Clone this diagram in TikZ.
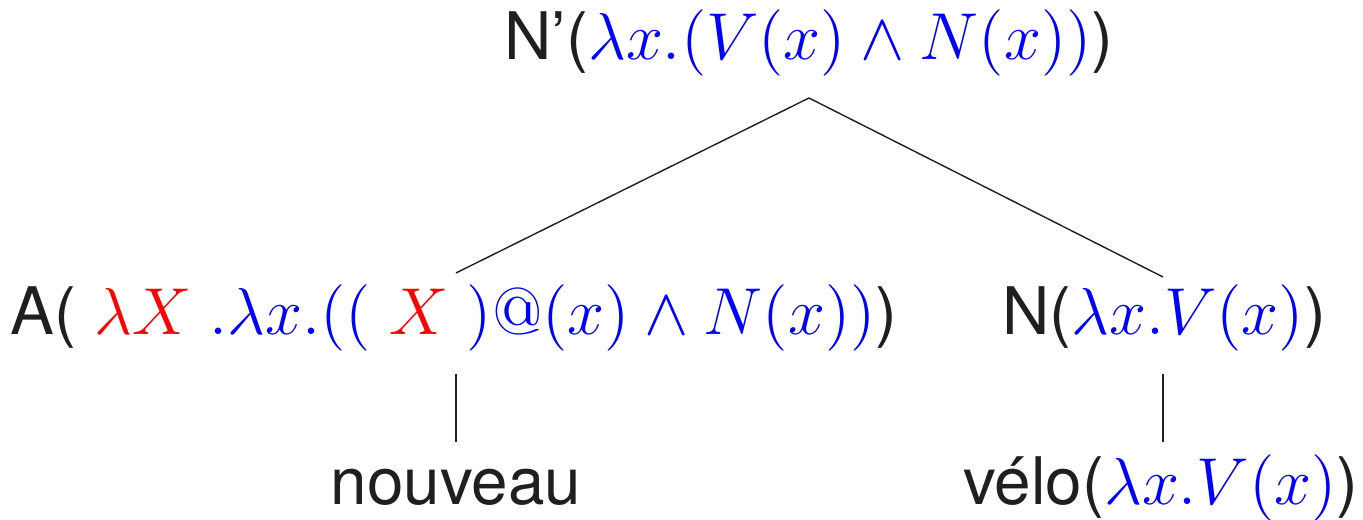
\RequirePackage{fix-cm}
\documentclass[tikz,border=0pt]{standalone}
\usepackage[no-math]{fontspec}
\setmainfont{TeX Gyre Heros}
\usetikzlibrary{calc}
\definecolor{ink}{rgb}{0.12,0.12,0.12}
% coloured formulas in scalable Computer Modern math
\newcommand{\mfont}{\fontsize{16.6}{20}\selectfont}
\newcommand{\bl}[1]{\textcolor{blue}{\mfont$#1$}}
\newcommand{\rd}[1]{\textcolor{red}{\mfont$#1$}}
\begin{document}
\begin{tikzpicture}[x=0.25pt,y=-0.25pt,
  lbl/.style={inner sep=0pt,anchor=base,text=ink,font=\fontsize{16.4}{20}\selectfont},
  edge/.style={draw=ink,line width=0.35pt}]
\useasboundingbox (0,0) rectangle (1363,520);
\node[lbl] (top) at (809,60) {N’(\bl{\lambda x.(V(x)\wedge N(x))})};
\node[lbl] (adj) at (454,335) {A(\ \rd{\lambda X}\ \bl{.\lambda x.((}\ \rd{X}\ \bl{)@(x)\wedge N(x))})};
\node[lbl] (noun) at (1164,335) {N(\bl{\lambda x.V(x)})};
\node[lbl] (nouveau) at (456,505) {nouveau};
\node[lbl] (velo) at (1161,505) {vélo(\bl{\lambda x.V(x)})};
\draw[edge] ($(top.base)+(0,38)$) -- ($(adj.base)+(2,-62)$);
\draw[edge] ($(top.base)+(0,38)$) -- ($(noun.base)+(-1,-58)$);
\draw[edge] ($(adj.base)+(2,39)$) -- ($(nouveau.base)+(0,-63)$);
\draw[edge] ($(noun.base)+(-1,39)$) -- ($(velo.base)+(2,-63)$);
\end{tikzpicture}
\end{document}
